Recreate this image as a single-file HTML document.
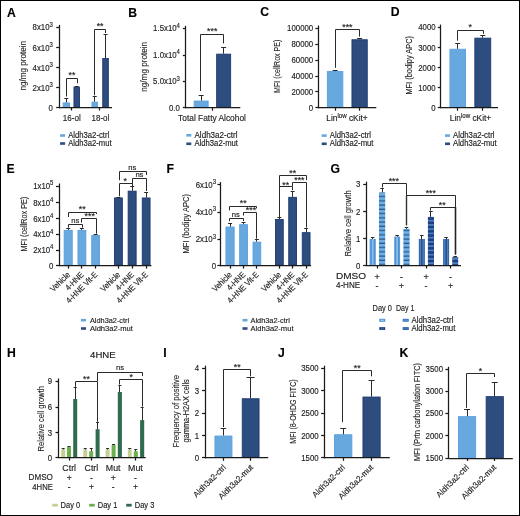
<!DOCTYPE html><html><head><meta charset="utf-8"><style>html,body{margin:0;padding:0;background:#fff;}svg{display:block;will-change:transform;}text{font-family:"Liberation Sans", sans-serif;stroke:#1a1a1a;stroke-width:0.15px;}</style></head><body>
<svg width="520" height="516" viewBox="0 0 520 516">
<defs><pattern id="hstripeL" patternUnits="userSpaceOnUse" x="0" y="0" width="10" height="4.25"><rect width="10" height="4.25" fill="#6cb0ea"/><rect y="0.4" width="10" height="1.35" fill="#2f5b88"/></pattern><pattern id="hstripeD" patternUnits="userSpaceOnUse" x="0" y="0.5" width="10" height="4.25"><rect width="10" height="4.25" fill="#4a80c6"/><rect y="0" width="10" height="2.6" fill="#213f7c"/></pattern></defs>
<rect x="0" y="0" width="520" height="516" fill="#fff"/>
<text x="6.90" y="16.80" font-size="12.2" text-anchor="start" font-weight="bold" fill="#000">A</text>
<rect x="63.15" y="102.95" width="6.40" height="4.30" fill="#67a9de" stroke="#5a9edf" stroke-width="0.9"/>
<rect x="73.95" y="87.15" width="5.60" height="20.10" fill="#2d4d7e" stroke="#1c3872" stroke-width="0.9"/>
<rect x="91.95" y="102.15" width="5.60" height="5.10" fill="#67a9de" stroke="#5a9edf" stroke-width="0.9"/>
<rect x="102.75" y="58.45" width="5.60" height="48.80" fill="#2d4d7e" stroke="#1c3872" stroke-width="0.9"/>
<line x1="66.50" y1="98.30" x2="66.50" y2="102.50" stroke="#2a2a2a" stroke-width="1.0"/>
<line x1="64.35" y1="98.50" x2="68.35" y2="98.50" stroke="#2a2a2a" stroke-width="1.0"/>
<line x1="76.50" y1="86.00" x2="76.50" y2="86.70" stroke="#2a2a2a" stroke-width="1.0"/>
<line x1="74.75" y1="86.50" x2="78.75" y2="86.50" stroke="#2a2a2a" stroke-width="1.0"/>
<line x1="94.50" y1="96.70" x2="94.50" y2="101.70" stroke="#2a2a2a" stroke-width="1.0"/>
<line x1="92.75" y1="96.50" x2="96.75" y2="96.50" stroke="#2a2a2a" stroke-width="1.0"/>
<line x1="105.50" y1="34.50" x2="105.50" y2="58.00" stroke="#2a2a2a" stroke-width="1.0"/>
<line x1="103.55" y1="34.50" x2="107.55" y2="34.50" stroke="#2a2a2a" stroke-width="1.0"/>
<line x1="59.50" y1="24.90" x2="59.50" y2="108.30" stroke="#1a1a1a" stroke-width="1.25"/>
<line x1="56.20" y1="27.50" x2="59.20" y2="27.50" stroke="#1a1a1a" stroke-width="1.25"/>
<text x="52.80" y="30.40" font-size="8.5" text-anchor="end" fill="#1e1e1e" textLength="20.26" lengthAdjust="spacingAndGlyphs">8x10<tspan font-size="6.46" dy="-3.57">3</tspan></text>
<line x1="56.20" y1="47.50" x2="59.20" y2="47.50" stroke="#1a1a1a" stroke-width="1.25"/>
<text x="52.80" y="50.50" font-size="8.5" text-anchor="end" fill="#1e1e1e" textLength="20.26" lengthAdjust="spacingAndGlyphs">6x10<tspan font-size="6.46" dy="-3.57">3</tspan></text>
<line x1="56.20" y1="67.50" x2="59.20" y2="67.50" stroke="#1a1a1a" stroke-width="1.25"/>
<text x="52.80" y="70.50" font-size="8.5" text-anchor="end" fill="#1e1e1e" textLength="20.26" lengthAdjust="spacingAndGlyphs">4x10<tspan font-size="6.46" dy="-3.57">3</tspan></text>
<line x1="56.20" y1="87.50" x2="59.20" y2="87.50" stroke="#1a1a1a" stroke-width="1.25"/>
<text x="52.80" y="90.60" font-size="8.5" text-anchor="end" fill="#1e1e1e" textLength="20.26" lengthAdjust="spacingAndGlyphs">2x10<tspan font-size="6.46" dy="-3.57">3</tspan></text>
<line x1="56.20" y1="107.50" x2="59.20" y2="107.50" stroke="#1a1a1a" stroke-width="1.25"/>
<text x="52.80" y="110.70" font-size="8.5" text-anchor="end" fill="#1e1e1e" textLength="4.35" lengthAdjust="spacingAndGlyphs">0</text>
<line x1="59.20" y1="107.50" x2="112.00" y2="107.50" stroke="#1a1a1a" stroke-width="1.25"/>
<line x1="71.50" y1="107.50" x2="71.50" y2="110.50" stroke="#1a1a1a" stroke-width="1.25"/>
<line x1="99.50" y1="107.50" x2="99.50" y2="110.50" stroke="#1a1a1a" stroke-width="1.25"/>
<polyline points="66.50,96.50 66.50,78.50 77.50,78.50 77.50,83.30" fill="none" stroke="#2a2a2a" stroke-width="1.0"/>
<text x="71.90" y="78.10" font-size="8.799999999999999" text-anchor="middle" fill="#1e1e1e">**</text>
<polyline points="94.50,95.30 94.50,29.50 105.50,29.50 105.50,33.00" fill="none" stroke="#2a2a2a" stroke-width="1.0"/>
<text x="100.10" y="29.10" font-size="8.799999999999999" text-anchor="middle" fill="#1e1e1e">**</text>
<text x="71.80" y="120.60" font-size="9" text-anchor="middle" textLength="17.9" lengthAdjust="spacingAndGlyphs" fill="#1e1e1e">16-ol</text>
<text x="100.40" y="120.60" font-size="9" text-anchor="middle" textLength="17.7" lengthAdjust="spacingAndGlyphs" fill="#1e1e1e">18-ol</text>
<text x="26.00" y="65.80" font-size="9.3" text-anchor="middle" transform="rotate(-90 26.00 65.80)" textLength="49.5" lengthAdjust="spacingAndGlyphs" fill="#1e1e1e" style="stroke-width:0.1px">ng/mg protein</text>
<rect x="60.10" y="134.20" width="5.00" height="2.60" fill="#67a9de"/>
<rect x="60.10" y="142.20" width="5.00" height="2.60" fill="#2d4d7e"/>
<text x="68.20" y="137.90" font-size="8.2" text-anchor="start" textLength="41" lengthAdjust="spacingAndGlyphs" fill="#1e1e1e">Aldh3a2-ctrl</text>
<text x="68.20" y="145.90" font-size="8.2" text-anchor="start" textLength="43.4" lengthAdjust="spacingAndGlyphs" fill="#1e1e1e">Aldh3a2-mut</text>
<text x="128.20" y="16.60" font-size="12.2" text-anchor="start" font-weight="bold" fill="#000">B</text>
<rect x="194.15" y="101.05" width="14.00" height="6.20" fill="#67a9de" stroke="#5a9edf" stroke-width="0.9"/>
<rect x="216.65" y="54.15" width="14.00" height="53.10" fill="#2d4d7e" stroke="#1c3872" stroke-width="0.9"/>
<line x1="201.50" y1="95.50" x2="201.50" y2="100.60" stroke="#2a2a2a" stroke-width="1.0"/>
<line x1="198.65" y1="95.50" x2="203.65" y2="95.50" stroke="#2a2a2a" stroke-width="1.0"/>
<line x1="223.50" y1="47.70" x2="223.50" y2="53.70" stroke="#2a2a2a" stroke-width="1.0"/>
<line x1="221.15" y1="47.50" x2="226.15" y2="47.50" stroke="#2a2a2a" stroke-width="1.0"/>
<line x1="185.50" y1="25.80" x2="185.50" y2="108.30" stroke="#1a1a1a" stroke-width="1.25"/>
<line x1="182.80" y1="28.50" x2="185.80" y2="28.50" stroke="#1a1a1a" stroke-width="1.25"/>
<text x="179.90" y="31.30" font-size="8.5" text-anchor="end" fill="#1e1e1e" textLength="26.78" lengthAdjust="spacingAndGlyphs">1.5x10<tspan font-size="6.46" dy="-3.57">4</tspan></text>
<line x1="182.80" y1="55.50" x2="185.80" y2="55.50" stroke="#1a1a1a" stroke-width="1.25"/>
<text x="179.90" y="58.00" font-size="8.5" text-anchor="end" fill="#1e1e1e" textLength="26.78" lengthAdjust="spacingAndGlyphs">1.0x10<tspan font-size="6.46" dy="-3.57">4</tspan></text>
<line x1="182.80" y1="81.50" x2="185.80" y2="81.50" stroke="#1a1a1a" stroke-width="1.25"/>
<text x="179.90" y="84.30" font-size="8.5" text-anchor="end" fill="#1e1e1e" textLength="26.78" lengthAdjust="spacingAndGlyphs">5.0x10<tspan font-size="6.46" dy="-3.57">3</tspan></text>
<line x1="182.80" y1="107.50" x2="185.80" y2="107.50" stroke="#1a1a1a" stroke-width="1.25"/>
<text x="179.90" y="110.70" font-size="8.5" text-anchor="end" fill="#1e1e1e" textLength="10.87" lengthAdjust="spacingAndGlyphs">0.0</text>
<line x1="185.80" y1="107.50" x2="240.30" y2="107.50" stroke="#1a1a1a" stroke-width="1.25"/>
<line x1="212.50" y1="107.70" x2="212.50" y2="110.70" stroke="#1a1a1a" stroke-width="1.25"/>
<polyline points="200.50,91.00 200.50,34.50 223.50,34.50 223.50,43.40" fill="none" stroke="#2a2a2a" stroke-width="1.0"/>
<text x="212.20" y="34.30" font-size="8.799999999999999" text-anchor="middle" fill="#1e1e1e">***</text>
<text x="212.00" y="120.60" font-size="9.2" text-anchor="middle" textLength="67.8" lengthAdjust="spacingAndGlyphs" fill="#1e1e1e">Total Fatty Alcohol</text>
<text x="146.90" y="66.80" font-size="9.3" text-anchor="middle" transform="rotate(-90 146.90 66.80)" textLength="49.8" lengthAdjust="spacingAndGlyphs" fill="#1e1e1e" style="stroke-width:0.1px">ng/mg protein</text>
<rect x="186.30" y="134.00" width="5.00" height="2.60" fill="#67a9de"/>
<rect x="186.30" y="142.50" width="5.00" height="2.60" fill="#2d4d7e"/>
<text x="194.50" y="137.70" font-size="8.2" text-anchor="start" textLength="43" lengthAdjust="spacingAndGlyphs" fill="#1e1e1e">Aldh3a2-ctrl</text>
<text x="194.50" y="146.20" font-size="8.2" text-anchor="start" textLength="43.5" lengthAdjust="spacingAndGlyphs" fill="#1e1e1e">Aldh3a2-mut</text>
<text x="260.20" y="16.40" font-size="12.2" text-anchor="start" font-weight="bold" fill="#000">C</text>
<rect x="327.35" y="71.55" width="15.50" height="35.70" fill="#67a9de" stroke="#5a9edf" stroke-width="0.9"/>
<rect x="351.95" y="39.75" width="15.30" height="67.50" fill="#2d4d7e" stroke="#1c3872" stroke-width="0.9"/>
<line x1="335.50" y1="70.00" x2="335.50" y2="71.10" stroke="#2a2a2a" stroke-width="1.0"/>
<line x1="332.60" y1="70.50" x2="337.60" y2="70.50" stroke="#2a2a2a" stroke-width="1.0"/>
<line x1="359.50" y1="38.00" x2="359.50" y2="39.30" stroke="#2a2a2a" stroke-width="1.0"/>
<line x1="357.10" y1="38.50" x2="362.10" y2="38.50" stroke="#2a2a2a" stroke-width="1.0"/>
<line x1="318.50" y1="25.50" x2="318.50" y2="108.30" stroke="#1a1a1a" stroke-width="1.25"/>
<line x1="315.40" y1="28.50" x2="318.40" y2="28.50" stroke="#1a1a1a" stroke-width="1.25"/>
<text x="313.20" y="31.00" font-size="8.5" text-anchor="end" fill="#1e1e1e" textLength="26.09" lengthAdjust="spacingAndGlyphs">100000</text>
<line x1="315.40" y1="44.50" x2="318.40" y2="44.50" stroke="#1a1a1a" stroke-width="1.25"/>
<text x="313.20" y="47.00" font-size="8.5" text-anchor="end" fill="#1e1e1e" textLength="21.74" lengthAdjust="spacingAndGlyphs">80000</text>
<line x1="315.40" y1="60.50" x2="318.40" y2="60.50" stroke="#1a1a1a" stroke-width="1.25"/>
<text x="313.20" y="63.00" font-size="8.5" text-anchor="end" fill="#1e1e1e" textLength="21.74" lengthAdjust="spacingAndGlyphs">60000</text>
<line x1="315.40" y1="76.50" x2="318.40" y2="76.50" stroke="#1a1a1a" stroke-width="1.25"/>
<text x="313.20" y="79.00" font-size="8.5" text-anchor="end" fill="#1e1e1e" textLength="21.74" lengthAdjust="spacingAndGlyphs">40000</text>
<line x1="315.40" y1="91.50" x2="318.40" y2="91.50" stroke="#1a1a1a" stroke-width="1.25"/>
<text x="313.20" y="94.80" font-size="8.5" text-anchor="end" fill="#1e1e1e" textLength="21.74" lengthAdjust="spacingAndGlyphs">20000</text>
<line x1="315.40" y1="107.50" x2="318.40" y2="107.50" stroke="#1a1a1a" stroke-width="1.25"/>
<text x="313.20" y="110.70" font-size="8.5" text-anchor="end" fill="#1e1e1e" textLength="4.35" lengthAdjust="spacingAndGlyphs">0</text>
<line x1="318.40" y1="107.50" x2="376.30" y2="107.50" stroke="#1a1a1a" stroke-width="1.25"/>
<line x1="335.50" y1="107.70" x2="335.50" y2="110.70" stroke="#1a1a1a" stroke-width="1.25"/>
<line x1="359.50" y1="107.70" x2="359.50" y2="110.70" stroke="#1a1a1a" stroke-width="1.25"/>
<polyline points="335.50,67.80 335.50,29.50 359.50,29.50 359.50,36.60" fill="none" stroke="#2a2a2a" stroke-width="1.0"/>
<text x="347.40" y="29.70" font-size="8.799999999999999" text-anchor="middle" fill="#1e1e1e">***</text>
<text x="326.3" y="120.9" font-size="9" fill="#1e1e1e" textLength="41.4" lengthAdjust="spacingAndGlyphs">Lin<tspan font-size="6.6" dy="-3.4">low</tspan><tspan dy="3.4"> cKit+</tspan></text>
<text x="280.30" y="66.30" font-size="9.5" text-anchor="middle" transform="rotate(-90 280.30 66.30)" textLength="53.2" lengthAdjust="spacingAndGlyphs" fill="#1e1e1e" style="stroke-width:0.1px">MFI (cellRox PE)</text>
<rect x="321.70" y="134.30" width="5.00" height="2.60" fill="#67a9de"/>
<rect x="321.70" y="142.50" width="5.00" height="2.60" fill="#2d4d7e"/>
<text x="329.80" y="138.00" font-size="8.2" text-anchor="start" textLength="41.2" lengthAdjust="spacingAndGlyphs" fill="#1e1e1e">Aldh3a2-ctrl</text>
<text x="329.80" y="146.20" font-size="8.2" text-anchor="start" textLength="43.7" lengthAdjust="spacingAndGlyphs" fill="#1e1e1e">Aldh3a2-mut</text>
<text x="390.80" y="16.40" font-size="12.2" text-anchor="start" font-weight="bold" fill="#000">D</text>
<rect x="449.95" y="49.25" width="15.60" height="58.00" fill="#67a9de" stroke="#5a9edf" stroke-width="0.9"/>
<rect x="474.85" y="38.15" width="15.90" height="69.10" fill="#2d4d7e" stroke="#1c3872" stroke-width="0.9"/>
<line x1="457.50" y1="43.40" x2="457.50" y2="48.80" stroke="#2a2a2a" stroke-width="1.0"/>
<line x1="455.25" y1="43.50" x2="460.25" y2="43.50" stroke="#2a2a2a" stroke-width="1.0"/>
<line x1="482.50" y1="35.30" x2="482.50" y2="37.70" stroke="#2a2a2a" stroke-width="1.0"/>
<line x1="480.30" y1="35.50" x2="485.30" y2="35.50" stroke="#2a2a2a" stroke-width="1.0"/>
<line x1="440.50" y1="24.60" x2="440.50" y2="108.30" stroke="#1a1a1a" stroke-width="1.25"/>
<line x1="437.80" y1="27.50" x2="440.80" y2="27.50" stroke="#1a1a1a" stroke-width="1.25"/>
<text x="435.60" y="30.10" font-size="8.5" text-anchor="end" fill="#1e1e1e" textLength="17.39" lengthAdjust="spacingAndGlyphs">4000</text>
<line x1="437.80" y1="47.50" x2="440.80" y2="47.50" stroke="#1a1a1a" stroke-width="1.25"/>
<text x="435.60" y="50.50" font-size="8.5" text-anchor="end" fill="#1e1e1e" textLength="17.39" lengthAdjust="spacingAndGlyphs">3000</text>
<line x1="437.80" y1="67.50" x2="440.80" y2="67.50" stroke="#1a1a1a" stroke-width="1.25"/>
<text x="435.60" y="70.60" font-size="8.5" text-anchor="end" fill="#1e1e1e" textLength="17.39" lengthAdjust="spacingAndGlyphs">2000</text>
<line x1="437.80" y1="87.50" x2="440.80" y2="87.50" stroke="#1a1a1a" stroke-width="1.25"/>
<text x="435.60" y="90.60" font-size="8.5" text-anchor="end" fill="#1e1e1e" textLength="17.39" lengthAdjust="spacingAndGlyphs">1000</text>
<line x1="437.80" y1="107.50" x2="440.80" y2="107.50" stroke="#1a1a1a" stroke-width="1.25"/>
<text x="435.60" y="110.70" font-size="8.5" text-anchor="end" fill="#1e1e1e" textLength="4.35" lengthAdjust="spacingAndGlyphs">0</text>
<line x1="440.80" y1="107.50" x2="498.00" y2="107.50" stroke="#1a1a1a" stroke-width="1.25"/>
<line x1="457.50" y1="107.70" x2="457.50" y2="110.70" stroke="#1a1a1a" stroke-width="1.25"/>
<line x1="482.50" y1="107.70" x2="482.50" y2="110.70" stroke="#1a1a1a" stroke-width="1.25"/>
<polyline points="457.50,40.70 457.50,30.50 483.50,30.50 483.50,33.90" fill="none" stroke="#2a2a2a" stroke-width="1.0"/>
<text x="470.30" y="30.20" font-size="8.799999999999999" text-anchor="middle" fill="#1e1e1e">*</text>
<text x="449.8" y="120.9" font-size="9" fill="#1e1e1e" textLength="41.4" lengthAdjust="spacingAndGlyphs">Lin<tspan font-size="6.6" dy="-3.4">low</tspan><tspan dy="3.4"> cKit+</tspan></text>
<text x="412.00" y="65.30" font-size="9.5" text-anchor="middle" transform="rotate(-90 412.00 65.30)" textLength="58.6" lengthAdjust="spacingAndGlyphs" fill="#1e1e1e" style="stroke-width:0.1px">MFI (bodipy APC)</text>
<rect x="445.00" y="134.30" width="5.00" height="2.60" fill="#67a9de"/>
<rect x="445.00" y="142.50" width="5.00" height="2.60" fill="#2d4d7e"/>
<text x="453.00" y="138.00" font-size="8.2" text-anchor="start" textLength="41.5" lengthAdjust="spacingAndGlyphs" fill="#1e1e1e">Aldh3a2-ctrl</text>
<text x="453.00" y="146.20" font-size="8.2" text-anchor="start" textLength="43.7" lengthAdjust="spacingAndGlyphs" fill="#1e1e1e">Aldh3a2-mut</text>
<text x="6.60" y="173.20" font-size="12.2" text-anchor="start" font-weight="bold" fill="#000">E</text>
<rect x="64.15" y="230.35" width="8.10" height="34.80" fill="#67a9de" stroke="#5a9edf" stroke-width="0.9"/>
<rect x="77.95" y="230.35" width="7.90" height="34.80" fill="#67a9de" stroke="#5a9edf" stroke-width="0.9"/>
<rect x="91.75" y="235.55" width="7.80" height="29.60" fill="#67a9de" stroke="#5a9edf" stroke-width="0.9"/>
<rect x="114.45" y="197.95" width="7.90" height="67.20" fill="#2d4d7e" stroke="#1c3872" stroke-width="0.9"/>
<rect x="128.15" y="191.15" width="8.00" height="74.00" fill="#2d4d7e" stroke="#1c3872" stroke-width="0.9"/>
<rect x="142.25" y="197.95" width="7.80" height="67.20" fill="#2d4d7e" stroke="#1c3872" stroke-width="0.9"/>
<line x1="68.50" y1="228.80" x2="68.50" y2="229.90" stroke="#2a2a2a" stroke-width="1.0"/>
<line x1="66.20" y1="228.50" x2="70.20" y2="228.50" stroke="#2a2a2a" stroke-width="1.0"/>
<line x1="81.50" y1="228.70" x2="81.50" y2="229.90" stroke="#2a2a2a" stroke-width="1.0"/>
<line x1="79.90" y1="228.50" x2="83.90" y2="228.50" stroke="#2a2a2a" stroke-width="1.0"/>
<line x1="95.50" y1="234.30" x2="95.50" y2="235.10" stroke="#2a2a2a" stroke-width="1.0"/>
<line x1="93.65" y1="234.50" x2="97.65" y2="234.50" stroke="#2a2a2a" stroke-width="1.0"/>
<line x1="118.50" y1="197.00" x2="118.50" y2="197.50" stroke="#2a2a2a" stroke-width="1.0"/>
<line x1="116.40" y1="197.50" x2="120.40" y2="197.50" stroke="#2a2a2a" stroke-width="1.0"/>
<line x1="132.50" y1="186.30" x2="132.50" y2="190.70" stroke="#2a2a2a" stroke-width="1.0"/>
<line x1="130.15" y1="186.50" x2="134.15" y2="186.50" stroke="#2a2a2a" stroke-width="1.0"/>
<line x1="146.50" y1="192.90" x2="146.50" y2="197.50" stroke="#2a2a2a" stroke-width="1.0"/>
<line x1="144.15" y1="192.50" x2="148.15" y2="192.50" stroke="#2a2a2a" stroke-width="1.0"/>
<line x1="59.50" y1="183.50" x2="59.50" y2="266.20" stroke="#1a1a1a" stroke-width="1.25"/>
<line x1="56.00" y1="186.50" x2="59.00" y2="186.50" stroke="#1a1a1a" stroke-width="1.25"/>
<text x="53.40" y="189.00" font-size="8.5" text-anchor="end" fill="#1e1e1e" textLength="20.26" lengthAdjust="spacingAndGlyphs">1x10<tspan font-size="6.46" dy="-3.57">5</tspan></text>
<line x1="56.00" y1="202.50" x2="59.00" y2="202.50" stroke="#1a1a1a" stroke-width="1.25"/>
<text x="53.40" y="205.80" font-size="8.5" text-anchor="end" fill="#1e1e1e" textLength="20.26" lengthAdjust="spacingAndGlyphs">8x10<tspan font-size="6.46" dy="-3.57">4</tspan></text>
<line x1="56.00" y1="218.50" x2="59.00" y2="218.50" stroke="#1a1a1a" stroke-width="1.25"/>
<text x="53.40" y="221.80" font-size="8.5" text-anchor="end" fill="#1e1e1e" textLength="20.26" lengthAdjust="spacingAndGlyphs">6x10<tspan font-size="6.46" dy="-3.57">4</tspan></text>
<line x1="56.00" y1="234.50" x2="59.00" y2="234.50" stroke="#1a1a1a" stroke-width="1.25"/>
<text x="53.40" y="237.40" font-size="8.5" text-anchor="end" fill="#1e1e1e" textLength="20.26" lengthAdjust="spacingAndGlyphs">4x10<tspan font-size="6.46" dy="-3.57">4</tspan></text>
<line x1="56.00" y1="250.50" x2="59.00" y2="250.50" stroke="#1a1a1a" stroke-width="1.25"/>
<text x="53.40" y="253.00" font-size="8.5" text-anchor="end" fill="#1e1e1e" textLength="20.26" lengthAdjust="spacingAndGlyphs">2x10<tspan font-size="6.46" dy="-3.57">4</tspan></text>
<line x1="56.00" y1="265.50" x2="59.00" y2="265.50" stroke="#1a1a1a" stroke-width="1.25"/>
<text x="53.40" y="268.60" font-size="8.5" text-anchor="end" fill="#1e1e1e" textLength="4.35" lengthAdjust="spacingAndGlyphs">0</text>
<line x1="59.00" y1="265.50" x2="151.40" y2="265.50" stroke="#1a1a1a" stroke-width="1.25"/>
<line x1="68.50" y1="265.60" x2="68.50" y2="268.60" stroke="#1a1a1a" stroke-width="1.25"/>
<line x1="81.50" y1="265.60" x2="81.50" y2="268.60" stroke="#1a1a1a" stroke-width="1.25"/>
<line x1="95.50" y1="265.60" x2="95.50" y2="268.60" stroke="#1a1a1a" stroke-width="1.25"/>
<line x1="118.50" y1="265.60" x2="118.50" y2="268.60" stroke="#1a1a1a" stroke-width="1.25"/>
<line x1="132.50" y1="265.60" x2="132.50" y2="268.60" stroke="#1a1a1a" stroke-width="1.25"/>
<line x1="146.50" y1="265.60" x2="146.50" y2="268.60" stroke="#1a1a1a" stroke-width="1.25"/>
<polyline points="68.50,217.00 68.50,212.50 96.50,212.50 96.50,214.10" fill="none" stroke="#2a2a2a" stroke-width="1.0"/>
<text x="82.30" y="211.90" font-size="8.799999999999999" text-anchor="middle" fill="#1e1e1e">**</text>
<polyline points="68.50,227.60 68.50,224.50 82.50,224.50 82.50,227.60" fill="none" stroke="#2a2a2a" stroke-width="1.0"/>
<text x="75.20" y="222.70" font-size="7.6" text-anchor="middle" fill="#1e1e1e">ns</text>
<polyline points="81.50,222.60 81.50,218.50 96.50,218.50 96.50,233.70" fill="none" stroke="#2a2a2a" stroke-width="1.0"/>
<text x="89.70" y="218.80" font-size="8.799999999999999" text-anchor="middle" fill="#1e1e1e">***</text>
<polyline points="119.50,180.20 119.50,171.50 146.50,171.50 146.50,175.00" fill="none" stroke="#2a2a2a" stroke-width="1.0"/>
<text x="132.30" y="170.20" font-size="7.6" text-anchor="middle" fill="#1e1e1e">ns</text>
<polyline points="119.50,196.30 119.50,183.50 132.50,183.50 132.50,186.30" fill="none" stroke="#2a2a2a" stroke-width="1.0"/>
<text x="125.30" y="183.70" font-size="8.799999999999999" text-anchor="middle" fill="#1e1e1e">*</text>
<polyline points="132.50,183.80 132.50,178.50 146.50,178.50 146.50,191.00" fill="none" stroke="#2a2a2a" stroke-width="1.0"/>
<text x="139.40" y="177.00" font-size="7.6" text-anchor="middle" fill="#1e1e1e">ns</text>
<text x="70.60" y="275.20" font-size="8.3" text-anchor="end" transform="rotate(-45 70.60 275.20)" textLength="24.09" lengthAdjust="spacingAndGlyphs" fill="#1e1e1e">Vehicle</text>
<text x="84.30" y="275.20" font-size="8.3" text-anchor="end" transform="rotate(-45 84.30 275.20)" textLength="22.41" lengthAdjust="spacingAndGlyphs" fill="#1e1e1e">4-HNE</text>
<text x="98.05" y="275.20" font-size="8.3" text-anchor="end" transform="rotate(-45 98.05 275.20)" textLength="40.54" lengthAdjust="spacingAndGlyphs" fill="#1e1e1e">4-HNE Vit-E</text>
<text x="120.80" y="275.20" font-size="8.3" text-anchor="end" transform="rotate(-45 120.80 275.20)" textLength="24.09" lengthAdjust="spacingAndGlyphs" fill="#1e1e1e">Vehicle</text>
<text x="134.55" y="275.20" font-size="8.3" text-anchor="end" transform="rotate(-45 134.55 275.20)" textLength="22.41" lengthAdjust="spacingAndGlyphs" fill="#1e1e1e">4-HNE</text>
<text x="148.55" y="275.20" font-size="8.3" text-anchor="end" transform="rotate(-45 148.55 275.20)" textLength="40.54" lengthAdjust="spacingAndGlyphs" fill="#1e1e1e">4-HNE Vit-E</text>
<text x="27.40" y="224.10" font-size="9.5" text-anchor="middle" transform="rotate(-90 27.40 224.10)" textLength="54.7" lengthAdjust="spacingAndGlyphs" fill="#1e1e1e" style="stroke-width:0.1px">MFI (cellRox PE)</text>
<rect x="81.00" y="318.90" width="5.00" height="2.60" fill="#67a9de"/>
<rect x="81.00" y="327.20" width="5.00" height="2.60" fill="#2d4d7e"/>
<text x="89.90" y="322.60" font-size="8.0" text-anchor="start" textLength="39.3" lengthAdjust="spacingAndGlyphs" fill="#1e1e1e">Aldh3a2-ctrl</text>
<text x="89.90" y="330.90" font-size="8.0" text-anchor="start" textLength="43" lengthAdjust="spacingAndGlyphs" fill="#1e1e1e">Aldh3a2-mut</text>
<text x="166.60" y="173.20" font-size="12.2" text-anchor="start" font-weight="bold" fill="#000">F</text>
<rect x="225.95" y="227.05" width="8.20" height="38.10" fill="#67a9de" stroke="#5a9edf" stroke-width="0.9"/>
<rect x="239.65" y="224.65" width="7.80" height="40.50" fill="#67a9de" stroke="#5a9edf" stroke-width="0.9"/>
<rect x="253.05" y="242.15" width="7.70" height="23.00" fill="#67a9de" stroke="#5a9edf" stroke-width="0.9"/>
<rect x="275.45" y="219.55" width="7.80" height="45.60" fill="#2d4d7e" stroke="#1c3872" stroke-width="0.9"/>
<rect x="288.75" y="197.35" width="7.80" height="67.80" fill="#2d4d7e" stroke="#1c3872" stroke-width="0.9"/>
<rect x="302.25" y="232.65" width="7.80" height="32.50" fill="#2d4d7e" stroke="#1c3872" stroke-width="0.9"/>
<line x1="230.50" y1="223.60" x2="230.50" y2="226.60" stroke="#2a2a2a" stroke-width="1.0"/>
<line x1="228.05" y1="223.50" x2="232.05" y2="223.50" stroke="#2a2a2a" stroke-width="1.0"/>
<line x1="243.50" y1="222.00" x2="243.50" y2="224.20" stroke="#2a2a2a" stroke-width="1.0"/>
<line x1="241.55" y1="222.50" x2="245.55" y2="222.50" stroke="#2a2a2a" stroke-width="1.0"/>
<line x1="256.50" y1="239.10" x2="256.50" y2="241.70" stroke="#2a2a2a" stroke-width="1.0"/>
<line x1="254.90" y1="239.50" x2="258.90" y2="239.50" stroke="#2a2a2a" stroke-width="1.0"/>
<line x1="279.50" y1="217.50" x2="279.50" y2="219.10" stroke="#2a2a2a" stroke-width="1.0"/>
<line x1="277.35" y1="217.50" x2="281.35" y2="217.50" stroke="#2a2a2a" stroke-width="1.0"/>
<line x1="292.50" y1="191.30" x2="292.50" y2="196.90" stroke="#2a2a2a" stroke-width="1.0"/>
<line x1="290.65" y1="191.50" x2="294.65" y2="191.50" stroke="#2a2a2a" stroke-width="1.0"/>
<line x1="306.50" y1="228.00" x2="306.50" y2="232.20" stroke="#2a2a2a" stroke-width="1.0"/>
<line x1="304.15" y1="228.50" x2="308.15" y2="228.50" stroke="#2a2a2a" stroke-width="1.0"/>
<line x1="220.50" y1="182.10" x2="220.50" y2="266.20" stroke="#1a1a1a" stroke-width="1.25"/>
<line x1="217.40" y1="184.50" x2="220.40" y2="184.50" stroke="#1a1a1a" stroke-width="1.25"/>
<text x="216.00" y="187.60" font-size="8.5" text-anchor="end" fill="#1e1e1e" textLength="20.26" lengthAdjust="spacingAndGlyphs">6x10<tspan font-size="6.46" dy="-3.57">3</tspan></text>
<line x1="217.40" y1="212.50" x2="220.40" y2="212.50" stroke="#1a1a1a" stroke-width="1.25"/>
<text x="216.00" y="215.00" font-size="8.5" text-anchor="end" fill="#1e1e1e" textLength="20.26" lengthAdjust="spacingAndGlyphs">4x10<tspan font-size="6.46" dy="-3.57">3</tspan></text>
<line x1="217.40" y1="239.50" x2="220.40" y2="239.50" stroke="#1a1a1a" stroke-width="1.25"/>
<text x="216.00" y="242.10" font-size="8.5" text-anchor="end" fill="#1e1e1e" textLength="20.26" lengthAdjust="spacingAndGlyphs">2x10<tspan font-size="6.46" dy="-3.57">3</tspan></text>
<line x1="217.40" y1="265.50" x2="220.40" y2="265.50" stroke="#1a1a1a" stroke-width="1.25"/>
<text x="216.00" y="268.60" font-size="8.5" text-anchor="end" fill="#1e1e1e" textLength="4.35" lengthAdjust="spacingAndGlyphs">0</text>
<line x1="220.40" y1="265.50" x2="311.10" y2="265.50" stroke="#1a1a1a" stroke-width="1.25"/>
<line x1="230.50" y1="265.60" x2="230.50" y2="268.60" stroke="#1a1a1a" stroke-width="1.25"/>
<line x1="243.50" y1="265.60" x2="243.50" y2="268.60" stroke="#1a1a1a" stroke-width="1.25"/>
<line x1="256.50" y1="265.60" x2="256.50" y2="268.60" stroke="#1a1a1a" stroke-width="1.25"/>
<line x1="279.50" y1="265.60" x2="279.50" y2="268.60" stroke="#1a1a1a" stroke-width="1.25"/>
<line x1="292.50" y1="265.60" x2="292.50" y2="268.60" stroke="#1a1a1a" stroke-width="1.25"/>
<line x1="306.50" y1="265.60" x2="306.50" y2="268.60" stroke="#1a1a1a" stroke-width="1.25"/>
<polyline points="229.50,210.40 229.50,206.50 256.50,206.50 256.50,208.40" fill="none" stroke="#2a2a2a" stroke-width="1.0"/>
<text x="243.30" y="206.30" font-size="8.799999999999999" text-anchor="middle" fill="#1e1e1e">**</text>
<polyline points="229.50,221.10 229.50,218.50 243.50,218.50 243.50,221.10" fill="none" stroke="#2a2a2a" stroke-width="1.0"/>
<text x="235.80" y="216.60" font-size="7.6" text-anchor="middle" fill="#1e1e1e">ns</text>
<polyline points="243.50,215.50 243.50,212.50 256.50,212.50 256.50,238.70" fill="none" stroke="#2a2a2a" stroke-width="1.0"/>
<text x="251.00" y="212.90" font-size="8.799999999999999" text-anchor="middle" fill="#1e1e1e">***</text>
<polyline points="279.50,186.80 279.50,175.50 306.50,175.50 306.50,180.10" fill="none" stroke="#2a2a2a" stroke-width="1.0"/>
<text x="292.70" y="175.90" font-size="8.799999999999999" text-anchor="middle" fill="#1e1e1e">**</text>
<polyline points="279.50,217.10 279.50,186.50 292.50,186.50 292.50,190.20" fill="none" stroke="#2a2a2a" stroke-width="1.0"/>
<text x="285.70" y="188.10" font-size="8.799999999999999" text-anchor="middle" fill="#1e1e1e">**</text>
<polyline points="292.50,186.20 292.50,182.50 306.50,182.50 306.50,227.60" fill="none" stroke="#2a2a2a" stroke-width="1.0"/>
<text x="299.40" y="183.40" font-size="8.799999999999999" text-anchor="middle" fill="#1e1e1e">***</text>
<text x="232.45" y="275.20" font-size="8.3" text-anchor="end" transform="rotate(-45 232.45 275.20)" textLength="24.09" lengthAdjust="spacingAndGlyphs" fill="#1e1e1e">Vehicle</text>
<text x="245.95" y="275.20" font-size="8.3" text-anchor="end" transform="rotate(-45 245.95 275.20)" textLength="22.41" lengthAdjust="spacingAndGlyphs" fill="#1e1e1e">4-HNE</text>
<text x="259.30" y="275.20" font-size="8.3" text-anchor="end" transform="rotate(-45 259.30 275.20)" textLength="40.54" lengthAdjust="spacingAndGlyphs" fill="#1e1e1e">4-HNE Vit-E</text>
<text x="281.75" y="275.20" font-size="8.3" text-anchor="end" transform="rotate(-45 281.75 275.20)" textLength="24.09" lengthAdjust="spacingAndGlyphs" fill="#1e1e1e">Vehicle</text>
<text x="295.05" y="275.20" font-size="8.3" text-anchor="end" transform="rotate(-45 295.05 275.20)" textLength="22.41" lengthAdjust="spacingAndGlyphs" fill="#1e1e1e">4-HNE</text>
<text x="308.55" y="275.20" font-size="8.3" text-anchor="end" transform="rotate(-45 308.55 275.20)" textLength="40.54" lengthAdjust="spacingAndGlyphs" fill="#1e1e1e">4-HNE Vit-E</text>
<text x="189.50" y="223.70" font-size="9.5" text-anchor="middle" transform="rotate(-90 189.50 223.70)" textLength="59.4" lengthAdjust="spacingAndGlyphs" fill="#1e1e1e" style="stroke-width:0.1px">MFI (bodipy APC)</text>
<rect x="242.50" y="318.90" width="5.00" height="2.60" fill="#67a9de"/>
<rect x="242.50" y="327.20" width="5.00" height="2.60" fill="#2d4d7e"/>
<text x="250.50" y="322.60" font-size="8.0" text-anchor="start" textLength="39.3" lengthAdjust="spacingAndGlyphs" fill="#1e1e1e">Aldh3a2-ctrl</text>
<text x="250.50" y="330.90" font-size="8.0" text-anchor="start" textLength="43" lengthAdjust="spacingAndGlyphs" fill="#1e1e1e">Aldh3a2-mut</text>
<text x="330.50" y="173.40" font-size="12.2" text-anchor="start" font-weight="bold" fill="#000">G</text>
<rect x="369.60" y="239.00" width="6.20" height="26.50" fill="#5a9ad8"/>
<rect x="371.00" y="239.00" width="0.80" height="26.50" fill="#4a88c8"/>
<rect x="373.60" y="239.00" width="0.80" height="26.50" fill="#4a88c8"/>
<rect x="371.80" y="239.00" width="1.80" height="26.50" fill="#86c0f0"/>
<rect x="379.00" y="192.50" width="6.20" height="73.00" fill="url(#hstripeL)"/>
<rect x="394.20" y="236.70" width="5.90" height="28.80" fill="#5a9ad8"/>
<rect x="395.45" y="236.70" width="0.80" height="28.80" fill="#4a88c8"/>
<rect x="398.05" y="236.70" width="0.80" height="28.80" fill="#4a88c8"/>
<rect x="396.25" y="236.70" width="1.80" height="28.80" fill="#86c0f0"/>
<rect x="403.40" y="228.80" width="6.20" height="36.70" fill="url(#hstripeL)"/>
<rect x="418.80" y="239.00" width="6.10" height="26.50" fill="#3466aa"/>
<rect x="419.95" y="239.00" width="3.80" height="26.50" fill="#4a82c6"/>
<rect x="421.35" y="239.00" width="1.00" height="26.50" fill="#1b3868"/>
<rect x="427.90" y="216.90" width="6.10" height="48.60" fill="url(#hstripeD)"/>
<rect x="443.10" y="239.00" width="6.00" height="26.50" fill="#3466aa"/>
<rect x="444.20" y="239.00" width="3.80" height="26.50" fill="#4a82c6"/>
<rect x="445.60" y="239.00" width="1.00" height="26.50" fill="#1b3868"/>
<rect x="452.20" y="257.20" width="6.00" height="8.30" fill="url(#hstripeD)"/>
<line x1="372.50" y1="237.50" x2="372.50" y2="239.00" stroke="#2a2a2a" stroke-width="1.0"/>
<line x1="370.95" y1="237.50" x2="374.45" y2="237.50" stroke="#2a2a2a" stroke-width="1.0"/>
<line x1="382.50" y1="188.50" x2="382.50" y2="192.50" stroke="#2a2a2a" stroke-width="1.0"/>
<line x1="380.35" y1="188.50" x2="383.85" y2="188.50" stroke="#2a2a2a" stroke-width="1.0"/>
<line x1="397.50" y1="235.60" x2="397.50" y2="236.70" stroke="#2a2a2a" stroke-width="1.0"/>
<line x1="395.40" y1="235.50" x2="398.90" y2="235.50" stroke="#2a2a2a" stroke-width="1.0"/>
<line x1="406.50" y1="227.60" x2="406.50" y2="228.80" stroke="#2a2a2a" stroke-width="1.0"/>
<line x1="404.75" y1="227.50" x2="408.25" y2="227.50" stroke="#2a2a2a" stroke-width="1.0"/>
<line x1="421.50" y1="235.60" x2="421.50" y2="239.00" stroke="#2a2a2a" stroke-width="1.0"/>
<line x1="420.10" y1="235.50" x2="423.60" y2="235.50" stroke="#2a2a2a" stroke-width="1.0"/>
<line x1="430.50" y1="211.20" x2="430.50" y2="216.90" stroke="#2a2a2a" stroke-width="1.0"/>
<line x1="429.20" y1="211.50" x2="432.70" y2="211.50" stroke="#2a2a2a" stroke-width="1.0"/>
<line x1="446.50" y1="237.50" x2="446.50" y2="239.00" stroke="#2a2a2a" stroke-width="1.0"/>
<line x1="444.35" y1="237.50" x2="447.85" y2="237.50" stroke="#2a2a2a" stroke-width="1.0"/>
<line x1="455.50" y1="256.20" x2="455.50" y2="257.20" stroke="#2a2a2a" stroke-width="1.0"/>
<line x1="453.45" y1="256.50" x2="456.95" y2="256.50" stroke="#2a2a2a" stroke-width="1.0"/>
<line x1="366.50" y1="181.70" x2="366.50" y2="266.10" stroke="#1a1a1a" stroke-width="1.25"/>
<line x1="363.20" y1="184.50" x2="366.20" y2="184.50" stroke="#1a1a1a" stroke-width="1.25"/>
<text x="360.40" y="187.20" font-size="8.5" text-anchor="end" fill="#1e1e1e" textLength="4.35" lengthAdjust="spacingAndGlyphs">3</text>
<line x1="363.20" y1="211.50" x2="366.20" y2="211.50" stroke="#1a1a1a" stroke-width="1.25"/>
<text x="360.40" y="214.50" font-size="8.5" text-anchor="end" fill="#1e1e1e" textLength="4.35" lengthAdjust="spacingAndGlyphs">2</text>
<line x1="363.20" y1="238.50" x2="366.20" y2="238.50" stroke="#1a1a1a" stroke-width="1.25"/>
<text x="360.40" y="241.80" font-size="8.5" text-anchor="end" fill="#1e1e1e" textLength="4.35" lengthAdjust="spacingAndGlyphs">1</text>
<line x1="363.20" y1="265.50" x2="366.20" y2="265.50" stroke="#1a1a1a" stroke-width="1.25"/>
<text x="360.40" y="268.50" font-size="8.5" text-anchor="end" fill="#1e1e1e" textLength="4.35" lengthAdjust="spacingAndGlyphs">0</text>
<line x1="366.20" y1="265.50" x2="461.00" y2="265.50" stroke="#1a1a1a" stroke-width="1.25"/>
<line x1="377.50" y1="265.50" x2="377.50" y2="268.50" stroke="#1a1a1a" stroke-width="1.25"/>
<line x1="401.50" y1="265.50" x2="401.50" y2="268.50" stroke="#1a1a1a" stroke-width="1.25"/>
<line x1="426.50" y1="265.50" x2="426.50" y2="268.50" stroke="#1a1a1a" stroke-width="1.25"/>
<line x1="450.50" y1="265.50" x2="450.50" y2="268.50" stroke="#1a1a1a" stroke-width="1.25"/>
<polyline points="382.50,187.50 382.50,183.50 406.50,183.50 406.50,225.20" fill="none" stroke="#2a2a2a" stroke-width="1.0"/>
<text x="393.80" y="183.70" font-size="8.799999999999999" text-anchor="middle" fill="#1e1e1e">***</text>
<polyline points="406.50,225.20 406.50,195.50 455.50,195.50 455.50,254.40" fill="none" stroke="#2a2a2a" stroke-width="1.0"/>
<text x="430.80" y="195.80" font-size="8.799999999999999" text-anchor="middle" fill="#1e1e1e">***</text>
<polyline points="430.50,210.60 430.50,207.50 455.50,207.50 455.50,254.40" fill="none" stroke="#2a2a2a" stroke-width="1.0"/>
<text x="442.30" y="207.70" font-size="8.799999999999999" text-anchor="middle" fill="#1e1e1e">**</text>
<line x1="455.50" y1="207.10" x2="455.50" y2="254.40" stroke="#222" stroke-width="1.6"/>
<line x1="406.50" y1="196.00" x2="406.50" y2="225.20" stroke="#333" stroke-width="1.4"/>
<text x="335.90" y="278.90" font-size="9.0" text-anchor="start" textLength="30.2" lengthAdjust="spacingAndGlyphs" fill="#1e1e1e">DMSO</text>
<text x="335.90" y="288.40" font-size="9.0" text-anchor="start" textLength="24.3" lengthAdjust="spacingAndGlyphs" fill="#1e1e1e">4-HNE</text>
<text x="377.10" y="279.90" font-size="9.0" text-anchor="middle" fill="#1e1e1e">+</text>
<text x="377.10" y="289.40" font-size="9.0" text-anchor="middle" fill="#1e1e1e">-</text>
<text x="401.40" y="279.90" font-size="9.0" text-anchor="middle" fill="#1e1e1e">-</text>
<text x="401.40" y="289.40" font-size="9.0" text-anchor="middle" fill="#1e1e1e">+</text>
<text x="426.10" y="279.90" font-size="9.0" text-anchor="middle" fill="#1e1e1e">+</text>
<text x="426.10" y="289.40" font-size="9.0" text-anchor="middle" fill="#1e1e1e">-</text>
<text x="450.60" y="279.90" font-size="9.0" text-anchor="middle" fill="#1e1e1e">-</text>
<text x="450.60" y="289.40" font-size="9.0" text-anchor="middle" fill="#1e1e1e">+</text>
<text x="372.60" y="311.30" font-size="8.6" text-anchor="start" textLength="19.4" lengthAdjust="spacingAndGlyphs" fill="#1e1e1e">Day 0</text>
<text x="396.00" y="311.30" font-size="8.6" text-anchor="start" textLength="18.4" lengthAdjust="spacingAndGlyphs" fill="#1e1e1e">Day 1</text>
<rect x="379.30" y="318.80" width="5.90" height="3.00" fill="#4a8fd6"/>
<rect x="380.60" y="319.70" width="3.30" height="1.20" fill="#9fd0f5"/>
<rect x="379.30" y="327.10" width="5.90" height="2.90" fill="#21427a"/>
<rect x="381.20" y="327.10" width="0.70" height="2.90" fill="#4a78b8"/>
<rect x="382.90" y="327.10" width="0.70" height="2.90" fill="#4a78b8"/>
<rect x="402.70" y="318.80" width="6.10" height="3.00" fill="#3f7fc8"/>
<rect x="402.70" y="320.00" width="6.10" height="0.60" fill="#5d9ad8"/>
<rect x="402.70" y="327.10" width="6.10" height="2.90" fill="#3465a6"/>
<rect x="402.70" y="328.30" width="6.10" height="0.60" fill="#4a7bbc"/>
<text x="411.50" y="322.80" font-size="8.2" text-anchor="start" textLength="41.9" lengthAdjust="spacingAndGlyphs" fill="#1e1e1e">Aldh3a2-ctrl</text>
<text x="411.50" y="330.50" font-size="8.2" text-anchor="start" textLength="43.8" lengthAdjust="spacingAndGlyphs" fill="#1e1e1e">Aldh3a2-mut</text>
<text x="350.80" y="223.40" font-size="9.9" text-anchor="middle" transform="rotate(-90 350.80 223.40)" textLength="66.2" lengthAdjust="spacingAndGlyphs" fill="#1e1e1e" style="stroke-width:0.1px">Relative cell growth</text>
<text x="7.10" y="356.80" font-size="12.2" text-anchor="start" font-weight="bold" fill="#000">H</text>
<text x="102.90" y="357.80" font-size="8.8" text-anchor="middle" textLength="25.6" lengthAdjust="spacingAndGlyphs" fill="#1e1e1e">4HNE</text>
<rect x="61.20" y="449.50" width="4.00" height="8.10" fill="#c4cf92"/>
<rect x="67.00" y="447.00" width="4.00" height="10.60" fill="#6cb04d"/>
<rect x="73.20" y="399.00" width="4.00" height="58.60" fill="#2f6b4d"/>
<rect x="83.30" y="449.50" width="3.90" height="8.10" fill="#c4cf92"/>
<rect x="89.20" y="451.20" width="4.00" height="6.40" fill="#6cb04d"/>
<rect x="95.60" y="429.20" width="4.00" height="28.40" fill="#2f6b4d"/>
<rect x="105.60" y="449.50" width="4.00" height="8.10" fill="#c4cf92"/>
<rect x="111.60" y="445.00" width="4.00" height="12.60" fill="#6cb04d"/>
<rect x="117.80" y="392.00" width="4.10" height="65.60" fill="#2f6b4d"/>
<rect x="127.80" y="449.50" width="3.90" height="8.10" fill="#c4cf92"/>
<rect x="133.80" y="451.20" width="4.00" height="6.40" fill="#6cb04d"/>
<rect x="140.10" y="420.10" width="4.10" height="37.50" fill="#2f6b4d"/>
<line x1="63.50" y1="448.50" x2="63.50" y2="449.50" stroke="#2a2a2a" stroke-width="1.0"/>
<line x1="61.70" y1="448.50" x2="64.70" y2="448.50" stroke="#2a2a2a" stroke-width="1.0"/>
<line x1="69.50" y1="446.00" x2="69.50" y2="447.00" stroke="#2a2a2a" stroke-width="1.0"/>
<line x1="67.50" y1="446.50" x2="70.50" y2="446.50" stroke="#2a2a2a" stroke-width="1.0"/>
<line x1="75.50" y1="387.30" x2="75.50" y2="399.00" stroke="#2a2a2a" stroke-width="1.0"/>
<line x1="73.70" y1="387.50" x2="76.70" y2="387.50" stroke="#2a2a2a" stroke-width="1.0"/>
<line x1="85.50" y1="448.50" x2="85.50" y2="449.50" stroke="#2a2a2a" stroke-width="1.0"/>
<line x1="83.75" y1="448.50" x2="86.75" y2="448.50" stroke="#2a2a2a" stroke-width="1.0"/>
<line x1="91.50" y1="448.50" x2="91.50" y2="451.20" stroke="#2a2a2a" stroke-width="1.0"/>
<line x1="89.70" y1="448.50" x2="92.70" y2="448.50" stroke="#2a2a2a" stroke-width="1.0"/>
<line x1="97.50" y1="422.20" x2="97.50" y2="429.20" stroke="#2a2a2a" stroke-width="1.0"/>
<line x1="96.10" y1="422.50" x2="99.10" y2="422.50" stroke="#2a2a2a" stroke-width="1.0"/>
<line x1="107.50" y1="448.50" x2="107.50" y2="449.50" stroke="#2a2a2a" stroke-width="1.0"/>
<line x1="106.10" y1="448.50" x2="109.10" y2="448.50" stroke="#2a2a2a" stroke-width="1.0"/>
<line x1="113.50" y1="444.00" x2="113.50" y2="445.00" stroke="#2a2a2a" stroke-width="1.0"/>
<line x1="112.10" y1="444.50" x2="115.10" y2="444.50" stroke="#2a2a2a" stroke-width="1.0"/>
<line x1="119.50" y1="385.70" x2="119.50" y2="392.00" stroke="#2a2a2a" stroke-width="1.0"/>
<line x1="118.35" y1="385.50" x2="121.35" y2="385.50" stroke="#2a2a2a" stroke-width="1.0"/>
<line x1="129.50" y1="448.50" x2="129.50" y2="449.50" stroke="#2a2a2a" stroke-width="1.0"/>
<line x1="128.25" y1="448.50" x2="131.25" y2="448.50" stroke="#2a2a2a" stroke-width="1.0"/>
<line x1="135.50" y1="449.50" x2="135.50" y2="451.20" stroke="#2a2a2a" stroke-width="1.0"/>
<line x1="134.30" y1="449.50" x2="137.30" y2="449.50" stroke="#2a2a2a" stroke-width="1.0"/>
<line x1="142.50" y1="407.30" x2="142.50" y2="420.10" stroke="#2a2a2a" stroke-width="1.0"/>
<line x1="140.65" y1="407.50" x2="143.65" y2="407.50" stroke="#2a2a2a" stroke-width="1.0"/>
<line x1="58.50" y1="378.50" x2="58.50" y2="458.20" stroke="#1a1a1a" stroke-width="1.25"/>
<line x1="55.50" y1="381.50" x2="58.50" y2="381.50" stroke="#1a1a1a" stroke-width="1.25"/>
<text x="52.20" y="384.00" font-size="8.5" text-anchor="end" fill="#1e1e1e" textLength="4.35" lengthAdjust="spacingAndGlyphs">9</text>
<line x1="55.50" y1="407.50" x2="58.50" y2="407.50" stroke="#1a1a1a" stroke-width="1.25"/>
<text x="52.20" y="410.10" font-size="8.5" text-anchor="end" fill="#1e1e1e" textLength="4.35" lengthAdjust="spacingAndGlyphs">6</text>
<line x1="55.50" y1="432.50" x2="58.50" y2="432.50" stroke="#1a1a1a" stroke-width="1.25"/>
<text x="52.20" y="435.70" font-size="8.5" text-anchor="end" fill="#1e1e1e" textLength="4.35" lengthAdjust="spacingAndGlyphs">3</text>
<line x1="55.50" y1="457.50" x2="58.50" y2="457.50" stroke="#1a1a1a" stroke-width="1.25"/>
<text x="52.20" y="460.60" font-size="8.5" text-anchor="end" fill="#1e1e1e" textLength="4.35" lengthAdjust="spacingAndGlyphs">0</text>
<line x1="58.50" y1="457.50" x2="145.70" y2="457.50" stroke="#1a1a1a" stroke-width="1.25"/>
<line x1="69.50" y1="457.60" x2="69.50" y2="460.60" stroke="#1a1a1a" stroke-width="1.25"/>
<line x1="91.50" y1="457.60" x2="91.50" y2="460.60" stroke="#1a1a1a" stroke-width="1.25"/>
<line x1="113.50" y1="457.60" x2="113.50" y2="460.60" stroke="#1a1a1a" stroke-width="1.25"/>
<line x1="135.50" y1="457.60" x2="135.50" y2="460.60" stroke="#1a1a1a" stroke-width="1.25"/>
<polyline points="75.50,386.90 75.50,381.50 97.50,381.50 97.50,421.70" fill="none" stroke="#2a2a2a" stroke-width="1.0"/>
<text x="86.40" y="381.50" font-size="8.799999999999999" text-anchor="middle" fill="#1e1e1e">**</text>
<polyline points="97.50,381.00 97.50,372.50 142.50,372.50 142.50,376.00" fill="none" stroke="#2a2a2a" stroke-width="1.0"/>
<text x="120.10" y="370.10" font-size="7.6" text-anchor="middle" fill="#1e1e1e">ns</text>
<polyline points="119.50,384.50 119.50,379.50 142.50,379.50 142.50,406.60" fill="none" stroke="#2a2a2a" stroke-width="1.0"/>
<text x="131.30" y="379.60" font-size="8.799999999999999" text-anchor="middle" fill="#1e1e1e">*</text>
<text x="69.20" y="470.80" font-size="8.8" text-anchor="middle" fill="#1e1e1e">Ctrl</text>
<text x="91.40" y="470.80" font-size="8.8" text-anchor="middle" fill="#1e1e1e">Ctrl</text>
<text x="113.20" y="470.80" font-size="8.8" text-anchor="middle" fill="#1e1e1e">Mut</text>
<text x="135.40" y="470.80" font-size="8.8" text-anchor="middle" fill="#1e1e1e">Mut</text>
<text x="52.90" y="480.00" font-size="8.6" text-anchor="end" textLength="24.3" lengthAdjust="spacingAndGlyphs" fill="#1e1e1e">DMSO</text>
<text x="52.90" y="489.80" font-size="8.6" text-anchor="end" textLength="20.6" lengthAdjust="spacingAndGlyphs" fill="#1e1e1e">4HNE</text>
<text x="69.20" y="480.60" font-size="8.6" text-anchor="middle" fill="#1e1e1e">+</text>
<text x="69.20" y="490.30" font-size="8.6" text-anchor="middle" fill="#1e1e1e">-</text>
<text x="91.40" y="480.60" font-size="8.6" text-anchor="middle" fill="#1e1e1e">-</text>
<text x="91.40" y="490.30" font-size="8.6" text-anchor="middle" fill="#1e1e1e">+</text>
<text x="113.20" y="480.60" font-size="8.6" text-anchor="middle" fill="#1e1e1e">+</text>
<text x="113.20" y="490.30" font-size="8.6" text-anchor="middle" fill="#1e1e1e">-</text>
<text x="135.40" y="480.60" font-size="8.6" text-anchor="middle" fill="#1e1e1e">-</text>
<text x="135.40" y="490.30" font-size="8.6" text-anchor="middle" fill="#1e1e1e">+</text>
<rect x="52.30" y="503.80" width="5.50" height="2.80" fill="#c4cf92"/>
<text x="60.60" y="508.00" font-size="8.2" text-anchor="start" textLength="19.5" lengthAdjust="spacingAndGlyphs" fill="#1e1e1e">Day 0</text>
<rect x="89.20" y="503.80" width="5.50" height="2.80" fill="#6cb04d"/>
<text x="97.80" y="508.00" font-size="8.2" text-anchor="start" textLength="19.5" lengthAdjust="spacingAndGlyphs" fill="#1e1e1e">Day 1</text>
<rect x="126.20" y="503.80" width="5.50" height="2.80" fill="#2f6b4d"/>
<text x="134.80" y="508.00" font-size="8.2" text-anchor="start" textLength="19.5" lengthAdjust="spacingAndGlyphs" fill="#1e1e1e">Day 3</text>
<text x="44.40" y="418.70" font-size="9.9" text-anchor="middle" transform="rotate(-90 44.40 418.70)" textLength="65.4" lengthAdjust="spacingAndGlyphs" fill="#1e1e1e" style="stroke-width:0.1px">Relative cell growth</text>
<text x="163.20" y="356.80" font-size="12.2" text-anchor="start" font-weight="bold" fill="#000">I</text>
<rect x="214.95" y="436.05" width="17.00" height="21.30" fill="#67a9de" stroke="#5a9edf" stroke-width="0.9"/>
<rect x="242.25" y="398.75" width="16.80" height="58.60" fill="#2d4d7e" stroke="#1c3872" stroke-width="0.9"/>
<line x1="223.50" y1="428.10" x2="223.50" y2="435.60" stroke="#2a2a2a" stroke-width="1.0"/>
<line x1="220.70" y1="428.50" x2="226.20" y2="428.50" stroke="#2a2a2a" stroke-width="1.0"/>
<line x1="250.50" y1="377.80" x2="250.50" y2="398.30" stroke="#2a2a2a" stroke-width="1.0"/>
<line x1="246.65" y1="377.50" x2="254.65" y2="377.50" stroke="#2a2a2a" stroke-width="1.0"/>
<line x1="205.50" y1="365.70" x2="205.50" y2="458.40" stroke="#1a1a1a" stroke-width="1.25"/>
<line x1="202.00" y1="368.50" x2="205.00" y2="368.50" stroke="#1a1a1a" stroke-width="1.25"/>
<text x="199.20" y="371.20" font-size="8.5" text-anchor="end" fill="#1e1e1e" textLength="4.35" lengthAdjust="spacingAndGlyphs">4</text>
<line x1="202.00" y1="390.50" x2="205.00" y2="390.50" stroke="#1a1a1a" stroke-width="1.25"/>
<text x="199.20" y="393.80" font-size="8.5" text-anchor="end" fill="#1e1e1e" textLength="4.35" lengthAdjust="spacingAndGlyphs">3</text>
<line x1="202.00" y1="413.50" x2="205.00" y2="413.50" stroke="#1a1a1a" stroke-width="1.25"/>
<text x="199.20" y="416.00" font-size="8.5" text-anchor="end" fill="#1e1e1e" textLength="4.35" lengthAdjust="spacingAndGlyphs">2</text>
<line x1="202.00" y1="435.50" x2="205.00" y2="435.50" stroke="#1a1a1a" stroke-width="1.25"/>
<text x="199.20" y="438.60" font-size="8.5" text-anchor="end" fill="#1e1e1e" textLength="4.35" lengthAdjust="spacingAndGlyphs">1</text>
<line x1="202.00" y1="457.50" x2="205.00" y2="457.50" stroke="#1a1a1a" stroke-width="1.25"/>
<text x="199.20" y="460.80" font-size="8.5" text-anchor="end" fill="#1e1e1e" textLength="4.35" lengthAdjust="spacingAndGlyphs">0</text>
<line x1="205.00" y1="457.50" x2="268.20" y2="457.50" stroke="#1a1a1a" stroke-width="1.25"/>
<line x1="223.50" y1="457.80" x2="223.50" y2="460.80" stroke="#1a1a1a" stroke-width="1.25"/>
<line x1="250.50" y1="457.80" x2="250.50" y2="460.80" stroke="#1a1a1a" stroke-width="1.25"/>
<polyline points="223.50,427.00 223.50,369.50 250.50,369.50 250.50,376.30" fill="none" stroke="#2a2a2a" stroke-width="1.0"/>
<text x="237.30" y="369.60" font-size="8.799999999999999" text-anchor="middle" fill="#1e1e1e">**</text>
<text x="178.60" y="411.20" font-size="9.5" text-anchor="middle" transform="rotate(-90 178.60 411.20)" textLength="72.5" lengthAdjust="spacingAndGlyphs" fill="#1e1e1e" style="stroke-width:0.1px">Frequency of positive</text>
<text x="189.40" y="410.80" font-size="9.5" text-anchor="middle" transform="rotate(-90 189.40 410.80)" textLength="63.2" lengthAdjust="spacingAndGlyphs" fill="#1e1e1e" style="stroke-width:0.1px">gamma-H2AX cells</text>
<text x="226.50" y="467.90" font-size="8.3" text-anchor="end" transform="rotate(-45 226.50 467.90)" textLength="42.51" lengthAdjust="spacingAndGlyphs" fill="#1e1e1e">Aldh3a2-ctrl</text>
<text x="253.70" y="467.90" font-size="8.3" text-anchor="end" transform="rotate(-45 253.70 467.90)" textLength="45.17" lengthAdjust="spacingAndGlyphs" fill="#1e1e1e">Aldh3a2-mut</text>
<text x="277.90" y="356.80" font-size="12.2" text-anchor="start" font-weight="bold" fill="#000">J</text>
<rect x="334.55" y="434.75" width="17.30" height="22.60" fill="#67a9de" stroke="#5a9edf" stroke-width="0.9"/>
<rect x="362.95" y="397.05" width="17.20" height="60.30" fill="#2d4d7e" stroke="#1c3872" stroke-width="0.9"/>
<line x1="343.50" y1="428.60" x2="343.50" y2="434.30" stroke="#2a2a2a" stroke-width="1.0"/>
<line x1="340.20" y1="428.50" x2="346.20" y2="428.50" stroke="#2a2a2a" stroke-width="1.0"/>
<line x1="371.50" y1="380.60" x2="371.50" y2="396.60" stroke="#2a2a2a" stroke-width="1.0"/>
<line x1="368.55" y1="380.50" x2="374.55" y2="380.50" stroke="#2a2a2a" stroke-width="1.0"/>
<line x1="324.50" y1="365.70" x2="324.50" y2="458.40" stroke="#1a1a1a" stroke-width="1.25"/>
<line x1="321.10" y1="368.50" x2="324.10" y2="368.50" stroke="#1a1a1a" stroke-width="1.25"/>
<text x="318.60" y="371.20" font-size="8.5" text-anchor="end" fill="#1e1e1e" textLength="17.39" lengthAdjust="spacingAndGlyphs">3500</text>
<line x1="321.10" y1="390.50" x2="324.10" y2="390.50" stroke="#1a1a1a" stroke-width="1.25"/>
<text x="318.60" y="393.80" font-size="8.5" text-anchor="end" fill="#1e1e1e" textLength="17.39" lengthAdjust="spacingAndGlyphs">3000</text>
<line x1="321.10" y1="413.50" x2="324.10" y2="413.50" stroke="#1a1a1a" stroke-width="1.25"/>
<text x="318.60" y="416.20" font-size="8.5" text-anchor="end" fill="#1e1e1e" textLength="17.39" lengthAdjust="spacingAndGlyphs">2500</text>
<line x1="321.10" y1="435.50" x2="324.10" y2="435.50" stroke="#1a1a1a" stroke-width="1.25"/>
<text x="318.60" y="438.60" font-size="8.5" text-anchor="end" fill="#1e1e1e" textLength="17.39" lengthAdjust="spacingAndGlyphs">2000</text>
<line x1="321.10" y1="457.50" x2="324.10" y2="457.50" stroke="#1a1a1a" stroke-width="1.25"/>
<text x="318.60" y="460.80" font-size="8.5" text-anchor="end" fill="#1e1e1e" textLength="17.39" lengthAdjust="spacingAndGlyphs">1500</text>
<line x1="324.10" y1="457.50" x2="389.80" y2="457.50" stroke="#1a1a1a" stroke-width="1.25"/>
<line x1="343.50" y1="457.80" x2="343.50" y2="460.80" stroke="#1a1a1a" stroke-width="1.25"/>
<line x1="371.50" y1="457.80" x2="371.50" y2="460.80" stroke="#1a1a1a" stroke-width="1.25"/>
<polyline points="342.50,422.20 342.50,370.50 371.50,370.50 371.50,376.30" fill="none" stroke="#2a2a2a" stroke-width="1.0"/>
<text x="357.20" y="370.60" font-size="8.799999999999999" text-anchor="middle" fill="#1e1e1e">**</text>
<text x="295.80" y="411.50" font-size="9.6" text-anchor="middle" transform="rotate(-90 295.80 411.50)" textLength="64.5" lengthAdjust="spacingAndGlyphs" fill="#1e1e1e" style="stroke-width:0.1px">MFI (8-OHDG FITC)</text>
<text x="345.60" y="467.90" font-size="8.3" text-anchor="end" transform="rotate(-45 345.60 467.90)" textLength="42.51" lengthAdjust="spacingAndGlyphs" fill="#1e1e1e">Aldh3a2-ctrl</text>
<text x="373.80" y="467.90" font-size="8.3" text-anchor="end" transform="rotate(-45 373.80 467.90)" textLength="45.17" lengthAdjust="spacingAndGlyphs" fill="#1e1e1e">Aldh3a2-mut</text>
<text x="399.40" y="356.80" font-size="12.2" text-anchor="start" font-weight="bold" fill="#000">K</text>
<rect x="458.45" y="416.65" width="17.20" height="40.90" fill="#67a9de" stroke="#5a9edf" stroke-width="0.9"/>
<rect x="486.15" y="396.65" width="17.20" height="60.90" fill="#2d4d7e" stroke="#1c3872" stroke-width="0.9"/>
<line x1="467.50" y1="409.40" x2="467.50" y2="416.20" stroke="#2a2a2a" stroke-width="1.0"/>
<line x1="464.05" y1="409.50" x2="470.05" y2="409.50" stroke="#2a2a2a" stroke-width="1.0"/>
<line x1="494.50" y1="382.30" x2="494.50" y2="396.20" stroke="#2a2a2a" stroke-width="1.0"/>
<line x1="491.75" y1="382.50" x2="497.75" y2="382.50" stroke="#2a2a2a" stroke-width="1.0"/>
<line x1="448.50" y1="366.80" x2="448.50" y2="458.60" stroke="#1a1a1a" stroke-width="1.25"/>
<line x1="445.40" y1="369.50" x2="448.40" y2="369.50" stroke="#1a1a1a" stroke-width="1.25"/>
<text x="443.00" y="372.30" font-size="8.5" text-anchor="end" fill="#1e1e1e" textLength="17.39" lengthAdjust="spacingAndGlyphs">3500</text>
<line x1="445.40" y1="391.50" x2="448.40" y2="391.50" stroke="#1a1a1a" stroke-width="1.25"/>
<text x="443.00" y="394.20" font-size="8.5" text-anchor="end" fill="#1e1e1e" textLength="17.39" lengthAdjust="spacingAndGlyphs">3000</text>
<line x1="445.40" y1="413.50" x2="448.40" y2="413.50" stroke="#1a1a1a" stroke-width="1.25"/>
<text x="443.00" y="416.40" font-size="8.5" text-anchor="end" fill="#1e1e1e" textLength="17.39" lengthAdjust="spacingAndGlyphs">2500</text>
<line x1="445.40" y1="435.50" x2="448.40" y2="435.50" stroke="#1a1a1a" stroke-width="1.25"/>
<text x="443.00" y="438.60" font-size="8.5" text-anchor="end" fill="#1e1e1e" textLength="17.39" lengthAdjust="spacingAndGlyphs">2000</text>
<line x1="445.40" y1="458.50" x2="448.40" y2="458.50" stroke="#1a1a1a" stroke-width="1.25"/>
<text x="443.00" y="461.00" font-size="8.5" text-anchor="end" fill="#1e1e1e" textLength="17.39" lengthAdjust="spacingAndGlyphs">1500</text>
<line x1="448.40" y1="458.50" x2="512.80" y2="458.50" stroke="#1a1a1a" stroke-width="1.25"/>
<line x1="467.50" y1="458.00" x2="467.50" y2="461.00" stroke="#1a1a1a" stroke-width="1.25"/>
<line x1="494.50" y1="458.00" x2="494.50" y2="461.00" stroke="#1a1a1a" stroke-width="1.25"/>
<polyline points="466.50,407.90 466.50,373.50 494.50,373.50 494.50,377.00" fill="none" stroke="#2a2a2a" stroke-width="1.0"/>
<text x="480.40" y="373.90" font-size="8.799999999999999" text-anchor="middle" fill="#1e1e1e">*</text>
<text x="420.00" y="412.00" font-size="9.6" text-anchor="middle" transform="rotate(-90 420.00 412.00)" textLength="98" lengthAdjust="spacingAndGlyphs" fill="#1e1e1e" style="stroke-width:0.1px">MFI (Prtn carbonylation FITC)</text>
<text x="469.60" y="467.90" font-size="8.3" text-anchor="end" transform="rotate(-45 469.60 467.90)" textLength="42.51" lengthAdjust="spacingAndGlyphs" fill="#1e1e1e">Aldh3a2-ctrl</text>
<text x="496.80" y="467.90" font-size="8.3" text-anchor="end" transform="rotate(-45 496.80 467.90)" textLength="45.17" lengthAdjust="spacingAndGlyphs" fill="#1e1e1e">Aldh3a2-mut</text>
<rect x="0.5" y="0.5" width="519" height="515" fill="none" stroke="#000" stroke-width="1"/>
</svg></body></html>
